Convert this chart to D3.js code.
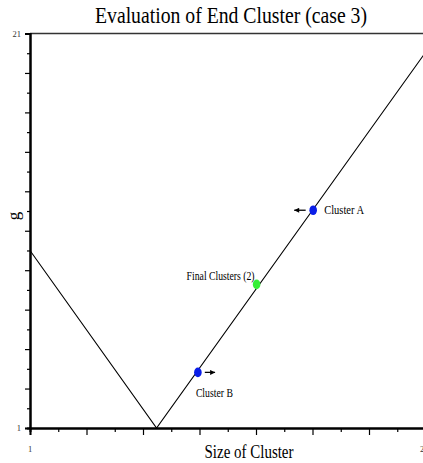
<!DOCTYPE html>
<html>
<head>
<meta charset="utf-8">
<script src="https://cdn.jsdelivr.net/npm/d3@7"></script>
<style>
  html, body { margin: 0; padding: 0; background: #fff; }
  svg { display: block; }
</style>
</head>
<body>
<script>
// Curve: cost g against cluster size (piecewise linear V shape)
const curveX = [1, 7.4, 21];
const curveY = [10, 1, 20.04];

// Highlighted clusters
const clusterNames = ["Cluster B", "Final Clusters (2)", "Cluster A"];
const clusterX = [9.49, 12.46, 15.32];
const clusterY = [3.82, 8.28, 12.04];
const clusterColors = ["#0a1ee8", "#36ee36", "#0a1ee8"];

// Movement arrows (from -> to), drawn beside clusters B and A
const arrowFromX = [9.84, 14.94];
const arrowToX = [10.36, 14.36];
const arrowY = [3.82, 12.04];

// Axis tick labels
const xTickLabels = ["1", "21"];
const yTickLabels = ["1", "21"];

const W = 423, H = 463;
const serif = "'Liberation Serif', 'Times New Roman', serif";
const svg = d3.select("body").append("svg")
  .attr("width", W).attr("height", H);

const x = d3.scaleLinear().domain([1, 21]).range([30, 425.5]);
const y = d3.scaleLinear().domain([1, 21]).range([428, 33.5]);

// condensed serif text helper
function label(sel, size, width) {
  sel.style("font-family", serif).attr("font-size", size);
  if (width) sel.attr("textLength", width).attr("lengthAdjust", "spacingAndGlyphs");
  return sel;
}

// top border line
svg.append("line")
  .attr("x1", x(1)).attr("x2", x(21))
  .attr("y1", y(21)).attr("y2", y(21))
  .attr("stroke", "#333").attr("stroke-width", 1.5);

// x axis: 14 divisions, long ticks on every other one
const xTicks = d3.range(15).map(i => 1 + i * 20 / 14);
const gx = svg.append("g").attr("transform", `translate(0,${y(1)})`);
gx.call(d3.axisBottom(x).tickValues(xTicks.filter((d, i) => i % 2 === 0)).tickSize(7).tickFormat(""));
gx.append("g").call(d3.axisBottom(x).tickValues(xTicks.filter((d, i) => i % 2 === 1)).tickSize(4).tickFormat(""));
gx.selectAll(".domain").attr("stroke-width", 2);
gx.selectAll("line").attr("stroke-width", 1.2);

// y axis: one tick per unit, long ticks at odd values
const yTicks = d3.range(1, 22);
const gy = svg.append("g").attr("transform", `translate(${x(1)},0)`);
gy.call(d3.axisLeft(y).tickValues(yTicks.filter(d => d % 2 === 1)).tickSize(5).tickFormat(""));
gy.append("g").call(d3.axisLeft(y).tickValues(yTicks.filter(d => d % 2 === 0)).tickSize(3).tickFormat(""));
gy.selectAll(".domain").attr("stroke-width", 2);
gy.selectAll("line").attr("stroke-width", 1.2);

// tick labels
svg.selectAll("text.xl").data(xTickLabels).join("text")
  .attr("class", "xl")
  .attr("x", (d, i) => i === 0 ? x(+d) : 420)
  .attr("y", 452)
  .attr("text-anchor", (d, i) => i === 0 ? "middle" : "start")
  .attr("fill", "#333")
  .text(d => d)
  .call(label, 8.5);
svg.selectAll("text.yl").data(yTickLabels).join("text")
  .attr("class", "yl")
  .attr("x", 21).attr("y", d => y(+d) + 3)
  .attr("text-anchor", "end").attr("fill", "#333")
  .text(d => d)
  .call(label, 8.5);

// curve
const line = d3.line().x(d => x(d[0])).y(d => y(d[1]));
svg.append("path")
  .datum(curveX.map((d, i) => [d, curveY[i]]))
  .attr("d", line)
  .attr("fill", "none").attr("stroke", "#000").attr("stroke-width", 1.1);

// arrows
svg.append("defs").append("marker")
  .attr("id", "head").attr("viewBox", "0 0 10 10")
  .attr("refX", 10).attr("refY", 5)
  .attr("markerWidth", 6).attr("markerHeight", 5)
  .attr("markerUnits", "userSpaceOnUse")
  .attr("orient", "auto")
  .append("path").attr("d", "M0,0L10,5L0,10Z").attr("fill", "#000");
svg.selectAll("line.arrow").data(arrowY).join("line")
  .attr("class", "arrow")
  .attr("x1", (d, i) => x(arrowFromX[i])).attr("x2", (d, i) => x(arrowToX[i]))
  .attr("y1", d => y(d)).attr("y2", d => y(d))
  .attr("stroke", "#000").attr("stroke-width", 1.3)
  .attr("marker-end", "url(#head)");

// cluster markers
svg.selectAll("ellipse.cl").data(clusterX).join("ellipse")
  .attr("class", "cl")
  .attr("cx", d => x(d)).attr("cy", (d, i) => y(clusterY[i]))
  .attr("rx", 3.8).attr("ry", 4.8)
  .attr("fill", (d, i) => clusterColors[i]);

// cluster labels: offsets from each marker and condensed widths
const lab = [
  { dx: -2, dy: 25, anchor: "start", w: 37 },   // Cluster B below
  { dx: -2, dy: -4, anchor: "end", w: 68 },     // Final Clusters to the left
  { dx: 11, dy: 4, anchor: "start", w: 40 }     // Cluster A to the right
];
svg.selectAll("text.cl").data(clusterNames).join("text")
  .attr("class", "cl")
  .attr("x", (d, i) => x(clusterX[i]) + lab[i].dx)
  .attr("y", (d, i) => y(clusterY[i]) + lab[i].dy)
  .attr("text-anchor", (d, i) => lab[i].anchor)
  .text(d => d)
  .style("font-family", serif).attr("font-size", 11.5)
  .attr("textLength", (d, i) => lab[i].w).attr("lengthAdjust", "spacingAndGlyphs");

// titles
svg.append("text")
  .attr("x", 231).attr("y", 23)
  .attr("text-anchor", "middle")
  .text("Evaluation of End Cluster (case 3)")
  .call(label, 22.5, 272);
svg.append("text")
  .attr("x", 249).attr("y", 458)
  .attr("text-anchor", "middle")
  .text("Size of Cluster")
  .call(label, 18.5, 89);
svg.append("text")
  .attr("transform", "translate(19,216) rotate(-90)")
  .attr("text-anchor", "middle")
  .text("g")
  .call(label, 17);
</script>
</body>
</html>
